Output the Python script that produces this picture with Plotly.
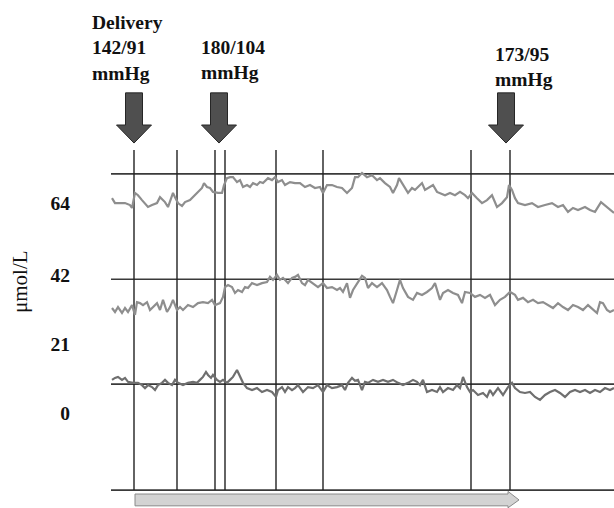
import plotly.graph_objects as go

# Continuous concentration recordings: time (min, relative to delivery) and level (μmol/L)
t_top = [-22, -19, -14, -9, -4, -2, 1, 4, 8, 11,
         14, 18, 23, 26, 29, 31, 34, 38, 39, 41,
         44, 48, 51, 56, 59, 64, 68, 70, 73, 76,
         79, 84, 88, 90, 93, 96, 99, 103, 106, 109,
         113, 116, 119, 123, 126, 129, 134, 138, 141, 144,
         148, 151, 156, 161, 166, 171, 176, 181, 186, 189,
         193, 198, 203, 208, 213, 218, 221, 224, 228, 233,
         238, 243, 246, 251, 256, 259, 263, 265, 269, 274,
         278, 281, 284, 288, 291, 294, 299, 303, 306, 311,
         316, 321, 326, 331, 334, 338, 343, 348, 353, 358,
         363, 368, 373, 375, 378, 381, 384, 391, 398, 404,
         411, 418, 424, 429, 434, 439, 444, 451, 456, 461,
         467, 473, 478, 480]
c_top = [65.5, 64.0, 64.0, 64.0, 63.4, 62.5, 67.1, 66.4, 64.9, 64.0,
         62.8, 63.4, 64.0, 65.8, 64.9, 64.3, 62.8, 66.4, 67.1, 65.8,
         64.0, 63.1, 64.3, 64.9, 65.8, 67.4, 68.6, 70.1, 68.9, 68.6,
         67.4, 67.1, 67.1, 69.5, 71.6, 71.9, 71.9, 70.4, 71.0, 68.9,
         69.5, 68.9, 70.1, 69.5, 70.4, 70.1, 71.6, 71.0, 71.9, 70.4,
         71.0, 69.5, 70.4, 70.1, 70.1, 68.9, 69.5, 68.6, 68.9, 67.1,
         69.5, 69.5, 68.9, 68.6, 67.1, 68.6, 71.9, 71.9, 73.2, 71.9,
         72.5, 71.0, 71.6, 70.1, 68.9, 67.1, 69.5, 71.6, 69.5, 67.1,
         68.6, 68.0, 68.9, 70.1, 68.0, 68.6, 69.5, 67.4, 67.1, 66.4,
         67.1, 66.4, 67.4, 66.4, 65.5, 67.1, 65.5, 64.0, 64.9, 66.4,
         62.8, 64.0, 65.8, 69.5, 68.0, 65.5, 64.0, 63.4, 64.0, 62.8,
         63.4, 64.0, 62.8, 63.4, 61.3, 62.5, 61.9, 62.8, 61.9, 61.3,
         64.3, 62.8, 61.3, 61.0]

t_mid = [-22, -19, -16, -12, -9, -6, -2, 1, 3, 6,
         9, 13, 16, 19, 23, 26, 29, 33, 36, 39,
         43, 46, 49, 54, 59, 64, 69, 74, 78, 81,
         86, 89, 91, 94, 98, 101, 104, 108, 111, 114,
         118, 123, 128, 133, 136, 139, 143, 146, 149, 154,
         158, 161, 164, 168, 171, 174, 179, 184, 189, 193,
         198, 203, 206, 209, 213, 216, 219, 223, 228, 231,
         234, 238, 243, 248, 253, 256, 259, 263, 266, 269,
         274, 279, 283, 288, 293, 298, 301, 306, 309, 314,
         319, 324, 328, 331, 336, 341, 346, 351, 356, 361,
         366, 371, 376, 381, 384, 389, 394, 399, 404, 409,
         414, 419, 424, 429, 434, 439, 444, 449, 454, 459,
         463, 466, 469, 473, 476, 480]
c_mid = [32.0, 30.8, 32.3, 30.5, 32.0, 30.8, 32.9, 29.9, 33.8, 33.5,
         32.9, 33.8, 31.4, 32.3, 33.5, 31.4, 34.5, 30.8, 32.3, 34.5,
         31.4, 32.3, 31.4, 32.9, 32.3, 33.5, 33.8, 33.5, 34.5, 32.9,
         33.5, 35.4, 38.4, 39.0, 38.4, 36.6, 37.5, 36.9, 38.4, 38.1,
         39.6, 39.0, 39.6, 39.9, 41.5, 40.6, 42.1, 40.6, 41.2, 39.6,
         41.2, 41.5, 42.1, 39.6, 39.0, 40.6, 39.6, 38.4, 39.6, 38.1,
         38.4, 37.5, 38.1, 36.9, 39.6, 35.1, 37.5, 39.6, 41.8, 41.2,
         38.1, 39.6, 38.4, 39.6, 37.5, 35.4, 33.5, 37.5, 40.6, 38.1,
         35.4, 34.5, 36.6, 36.0, 36.9, 38.1, 39.6, 34.5, 36.6, 37.5,
         36.6, 36.0, 33.5, 36.9, 36.6, 35.4, 36.0, 35.1, 36.0, 32.9,
         34.5, 35.4, 36.9, 36.0, 34.5, 35.1, 33.8, 34.5, 33.5, 33.8,
         32.9, 32.0, 33.5, 32.3, 31.4, 32.9, 32.3, 31.4, 32.9, 31.4,
         30.5, 33.8, 33.5, 31.4, 30.8, 31.4]

t_low = [-22, -19, -16, -12, -9, -6, -1, 4, 8, 11,
         14, 18, 21, 24, 28, 31, 34, 38, 41, 44,
         49, 54, 59, 63, 66, 69, 72, 74, 77, 79,
         83, 86, 89, 93, 96, 99, 103, 106, 109, 113,
         118, 123, 128, 133, 138, 142, 144, 148, 151, 154,
         158, 161, 164, 169, 174, 179, 184, 189, 193, 198,
         203, 208, 211, 214, 218, 221, 224, 228, 231, 234,
         239, 244, 249, 254, 259, 264, 269, 274, 279, 283,
         286, 289, 293, 298, 303, 306, 309, 314, 319, 323,
         326, 329, 333, 336, 339, 344, 349, 353, 356, 359,
         364, 369, 374, 378, 381, 386, 391, 396, 401, 406,
         411, 416, 421, 426, 431, 436, 441, 446, 451, 456,
         461, 466, 471, 476, 480]
c_low = [10.1, 10.7, 11.0, 10.1, 10.7, 9.5, 9.2, 9.2, 8.5, 7.6,
         8.5, 7.9, 7.0, 8.5, 9.2, 10.1, 9.2, 8.5, 10.1, 9.2,
         8.5, 9.2, 9.5, 9.2, 10.1, 11.0, 12.5, 11.6, 10.7, 11.6,
         10.1, 9.5, 10.1, 9.2, 10.1, 11.0, 13.1, 11.0, 9.2, 7.6,
         7.0, 7.6, 6.4, 7.0, 6.4, 4.9, 7.0, 7.9, 6.4, 7.9,
         7.0, 7.6, 8.5, 6.4, 7.9, 7.6, 8.5, 6.4, 8.5, 7.6,
         7.9, 8.5, 7.0, 9.2, 10.7, 9.8, 10.1, 7.0, 9.5, 9.2,
         10.1, 9.5, 10.1, 9.5, 10.1, 9.2, 8.5, 9.2, 10.1, 9.5,
         8.5, 10.1, 6.4, 7.0, 6.4, 7.9, 6.4, 7.6, 7.0, 8.5,
         7.6, 11.0, 7.9, 6.4, 7.0, 5.5, 6.1, 4.9, 7.0, 5.5,
         7.6, 5.5, 7.9, 9.2, 7.6, 6.4, 6.1, 6.4, 4.9, 4.0,
         5.5, 6.4, 7.0, 6.1, 4.9, 6.4, 7.0, 6.4, 7.0, 6.1,
         7.0, 6.4, 7.6, 7.0, 7.6]

# Axis labelling
y_ticks = [0, 21, 42, 64]
y_unit = "μmol/L"

# Reference levels of the three channels and the lower frame line (μmol/L)
ref_levels = [72.9, 40.8, 8.8, -23.5]

# Clinical event markers (min) and blood-pressure readings
event_times = [0, 43, 81, 91, 142, 189, 337, 376]
bp_times = [0, 85, 372]
bp_labels = ["Delivery<br>142/91<br>mmHg", "180/104<br>mmHg", "173/95<br>mmHg"]
timeline = [1, 385]

# ---- geometry / styling ----
W, H = 614, 508
ML = 111
X_RANGE = [-23, 480]
Y_RANGE = [-28.96, 125.91]
SERIF = "Liberation Serif, Times New Roman, serif"


def paper_x(px):
    return (px - ML) / (W - ML)


def paper_y(py):
    return 1 - py / H


fig = go.Figure()

trace_style = [("#8e8e8e", 2.2), ("#8e8e8e", 2.2), ("#6f6f6f", 2.2)]
for (t, c), (col, w) in zip([(t_top, c_top), (t_mid, c_mid), (t_low, c_low)], trace_style):
    fig.add_trace(go.Scatter(x=t, y=c, mode="lines",
                             line=dict(color=col, width=w),
                             hoverinfo="skip", showlegend=False))

shapes = []
for lvl in ref_levels:
    shapes.append(dict(type="line", xref="x", yref="y", x0=X_RANGE[0], x1=X_RANGE[1],
                       y0=lvl, y1=lvl, line=dict(color="#3a3a3a", width=1.6), layer="below"))
for et in event_times:
    shapes.append(dict(type="line", xref="x", yref="y", x0=et, x1=et,
                       y0=ref_levels[-1], y1=80.2, line=dict(color="#222222", width=1.4),
                       layer="below"))

# downward block arrows above the blood-pressure events
shaft_hw, head_hw = 8.5, 17.5
y_tail, y_head, y_tip = 97.6, 87.8, 82.3
for bt in bp_times:
    path = (f"M {bt - shaft_hw} {y_tail} L {bt + shaft_hw} {y_tail} "
            f"L {bt + shaft_hw} {y_head} L {bt + head_hw} {y_head} "
            f"L {bt} {y_tip} L {bt - head_hw} {y_head} "
            f"L {bt - shaft_hw} {y_head} Z")
    shapes.append(dict(type="path", xref="x", yref="y", path=path,
                       fillcolor="#4f4f4f", line=dict(color="#262626", width=1)))

# time arrow along the bottom
t0, t1 = timeline
head_len = 11
bar_top, bar_bot = -24.7, -28.3
hd_top, hd_bot, hd_mid = -23.9, -28.9, -26.5
path = (f"M {t0} {bar_top} L {t1 - head_len} {bar_top} L {t1 - head_len} {hd_top} "
        f"L {t1} {hd_mid} L {t1 - head_len} {hd_bot} L {t1 - head_len} {bar_bot} "
        f"L {t0} {bar_bot} Z")
shapes.append(dict(type="path", xref="x", yref="y", path=path,
                   fillcolor="#d3d3d3", line=dict(color="#8a8a8a", width=1)))

annotations = []
label_pos = [(90, 48), (199, 60), (493, 66.5)]
for txt, (px, py) in zip(bp_labels, label_pos):
    annotations.append(dict(text=txt, xref="paper", yref="paper",
                            x=paper_x(px), y=paper_y(py), xanchor="left", yanchor="middle",
                            align="left", showarrow=False,
                            font=dict(family=SERIF, size=19.5, color="#111111", weight="bold")))
annotations.append(dict(text=y_unit, xref="paper", yref="paper",
                        x=paper_x(20), y=paper_y(282), xanchor="center", yanchor="middle",
                        textangle=-90, showarrow=False,
                        font=dict(family=SERIF, size=21, color="#111111")))

fig.update_layout(
    width=W, height=H,
    margin=dict(l=ML, r=0, t=0, b=0),
    paper_bgcolor="white", plot_bgcolor="white",
    shapes=shapes, annotations=annotations,
    xaxis=dict(range=X_RANGE, visible=False, fixedrange=True),
    yaxis=dict(range=Y_RANGE, showgrid=False, zeroline=False, showline=False,
               tickvals=y_ticks, ticktext=[str(v) for v in y_ticks], ticks="",
               ticklabelstandoff=40,
               tickfont=dict(family=SERIF, size=19.5, color="#111111", weight="bold"),
               fixedrange=True),
)

fig.write_html("out.html")
